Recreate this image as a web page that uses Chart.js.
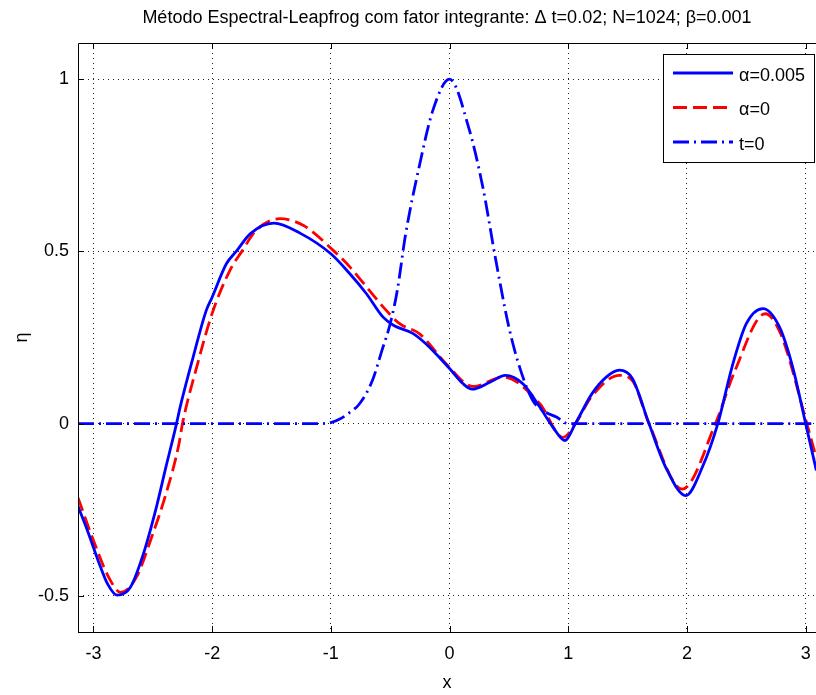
<!DOCTYPE html>
<html lang="pt-br">

<head>
    <meta charset="UTF-8">
    <title>Espectral-Leapfrog</title>
    <script src="https://cdn.jsdelivr.net/npm/chart.js"></script>
    <style>
        body { margin: 0; background: #fff; }
        canvas { display: block; }
    </style>
</head>

<body>
    <canvas id="grafico" width="816" height="695"></canvas>
</body>

<script>
    // valores
    const xTicks = [-3, -2, -1, 0, 1, 2, 3];
    const yTicks = [-0.5, 0, 0.5, 1];

    // alpha = 0.005 (azul, linha cheia)
    const alfaX = [-3.13, -3.05, -2.96, -2.88, -2.80, -2.69, -2.58, -2.47, -2.39, -2.30, -2.27, -2.16, -2.05, -2.0, -1.88, -1.79,
        -1.68, -1.48, -1.26, -1.0, -0.84, -0.70, -0.56, -0.47, -0.31, -0.2, -0.08, 0.0, 0.11, 0.19, 0.34, 0.47, 0.62, 0.76,
        0.87, 0.97, 1.06, 1.20, 1.32, 1.43, 1.54, 1.68, 1.82, 1.99, 2.13, 2.26, 2.38, 2.50, 2.64, 2.78, 2.89, 3.0, 3.09];
    const alfaY = [-0.24, -0.311, -0.398, -0.466, -0.498, -0.476, -0.379, -0.243, -0.127, 0.0, 0.047, 0.193, 0.328, 0.367, 0.464, 0.503,
        0.551, 0.582, 0.553, 0.493, 0.435, 0.377, 0.309, 0.285, 0.262, 0.232, 0.19, 0.16, 0.117, 0.1, 0.12, 0.14, 0.115, 0.048,
        -0.01, -0.049, 0.0, 0.087, 0.135, 0.155, 0.131, 0.0, -0.126, -0.209, -0.126, 0.0, 0.165, 0.29, 0.334, 0.28, 0.165, 0.0, -0.136];

    // alpha = 0 (vermelho, tracejado)
    const zeroX = [-3.13, -3.01, -2.87, -2.77, -2.64, -2.51, -2.39, -2.28, -2.25, -2.13, -2.0, -1.85, -1.75, -1.63, -1.43, -1.23,
        -0.98, -0.84, -0.70, -0.56, -0.42, -0.25, -0.03, 0.2, 0.45, 0.76, 0.955, 1.06, 1.2, 1.43, 1.54, 1.68, 1.96, 2.24, 2.4,
        2.66, 2.79, 3.01, 3.09];
    const zeroY = [-0.215, -0.33, -0.447, -0.49, -0.447, -0.33, -0.205, -0.06, 0.0, 0.164, 0.32, 0.445, 0.5, 0.561, 0.595, 0.575,
        0.503, 0.455, 0.397, 0.339, 0.29, 0.26, 0.174, 0.108, 0.135, 0.058, -0.04, 0.0, 0.08, 0.14, 0.125, 0.0, -0.19, 0.0, 0.15,
        0.319, 0.26, 0.0, -0.1];

    // t = 0 (condicao inicial, traco-ponto)
    const iniX = [-3.13, -1.1, -1.0, -0.92, -0.85, -0.76, -0.65, -0.57, -0.5, -0.44, -0.37, -0.25, -0.14, 0.0, 0.16, 0.28, 0.39,
        0.5, 0.59, 0.7, 0.8, 0.9, 1.0, 3.09];
    const iniY = [0, 0, 0.003, 0.014, 0.03, 0.057, 0.125, 0.212, 0.29, 0.387, 0.55, 0.755, 0.91, 1.0, 0.861, 0.687, 0.474,
        0.28, 0.164, 0.068, 0.035, 0.019, 0, 0];

    const legendaTextos = ['α=0.005', 'α=0', 't=0'];

    const fonte = "'Liberation Sans', Arial, sans-serif";

    function pontos(xs, ys) {
        return xs.map((x, i) => ({ x: x, y: ys[i] }));
    }

    // moldura, marcas internas e legenda estilo matlab
    const caixaMatlab = {
        id: 'caixaMatlab',
        afterDraw(chart) {
            const ctx = chart.ctx;
            const a = chart.chartArea;
            const sx = chart.scales.x;
            const sy = chart.scales.y;
            ctx.save();
            ctx.setLineDash([]);
            ctx.strokeStyle = '#000';
            ctx.lineWidth = 1;
            ctx.beginPath();
            ctx.moveTo(a.left + 0.5, a.bottom + 0.5);
            ctx.lineTo(a.left + 0.5, a.top + 0.5);
            ctx.lineTo(a.right, a.top + 0.5);
            ctx.moveTo(a.left, a.bottom + 0.5);
            ctx.lineTo(a.right, a.bottom + 0.5);
            sx.ticks.forEach(t => {
                const px = Math.round(sx.getPixelForValue(t.value)) + 0.5;
                ctx.moveTo(px, a.bottom);
                ctx.lineTo(px, a.bottom - 6);
                ctx.moveTo(px, a.top);
                ctx.lineTo(px, a.top + 6);
            });
            sy.ticks.forEach(t => {
                const py = Math.round(sy.getPixelForValue(t.value)) + 0.5;
                ctx.moveTo(a.left, py);
                ctx.lineTo(a.left + 6, py);
            });
            ctx.stroke();

            // legenda
            const bx = 663.5, by = 54.5, bw = 151, bh = 108;
            ctx.fillStyle = '#fff';
            ctx.fillRect(bx, by, bw, bh);
            ctx.strokeRect(bx, by, bw, bh);
            chart.data.datasets.forEach((ds, i) => {
                const ly = 73 + i * 34.5;
                ctx.strokeStyle = ds.borderColor;
                ctx.lineWidth = ds.borderWidth;
                ctx.setLineDash(ds.borderDash || []);
                ctx.beginPath();
                ctx.moveTo(673, ly);
                ctx.lineTo(733, ly);
                ctx.stroke();
                ctx.setLineDash([]);
                ctx.fillStyle = '#000';
                ctx.font = '18px ' + fonte;
                ctx.textBaseline = 'middle';
                ctx.textAlign = 'left';
                ctx.fillText(legendaTextos[i], 739, ly + 3);
            });
            ctx.restore();
        }
    };

    Chart.defaults.font.family = fonte;
    Chart.defaults.font.size = 18;
    Chart.defaults.color = '#000';

    const grafico = new Chart(document.getElementById('grafico'), {
        type: 'line',
        data: {
            datasets: [
                {
                    label: legendaTextos[0],
                    data: pontos(alfaX, alfaY),
                    borderColor: '#0000ff',
                    borderWidth: 2.8,
                    order: 2
                },
                {
                    label: legendaTextos[1],
                    data: pontos(zeroX, zeroY),
                    borderColor: '#ff0000',
                    borderWidth: 2.8,
                    borderDash: [14, 6],
                    order: 3
                },
                {
                    label: legendaTextos[2],
                    data: pontos(iniX, iniY),
                    borderColor: '#0000ff',
                    borderWidth: 2.8,
                    borderDash: [16, 5, 2, 5],
                    order: 1
                }
            ]
        },
        options: {
            responsive: false,
            animation: false,
            devicePixelRatio: 1,
            layout: { padding: 0 },
            elements: {
                point: { radius: 0 },
                line: { cubicInterpolationMode: 'monotone', fill: false }
            },
            plugins: {
                legend: { display: false },
                tooltip: { enabled: false },
                title: {
                    display: true,
                    fullSize: false,
                    text: 'Método Espectral-Leapfrog com fator integrante: Δ t=0.02; N=1024; β=0.001',
                    font: { size: 18, weight: 'normal' },
                    color: '#000',
                    padding: { top: 7, bottom: 14.4 }
                }
            },
            scales: {
                x: {
                    type: 'linear',
                    min: -3.13,
                    max: 3.087,
                    afterBuildTicks: s => { s.ticks = xTicks.map(v => ({ value: v })); },
                    afterFit: s => { s.height = 63; s.paddingLeft = 0; s.paddingRight = 0; },
                    ticks: { padding: 11, callback: v => String(v) },
                    grid: { color: '#222', drawTicks: false },
                    border: { display: false, dash: [1, 4] },
                    title: { display: true, text: 'x', padding: { top: 0, bottom: 1 } }
                },
                y: {
                    min: -0.605,
                    max: 1.105,
                    afterBuildTicks: s => { s.ticks = yTicks.map(v => ({ value: v })); },
                    afterFit: s => { s.width = 78; },
                    ticks: { padding: 9, callback: v => String(v) },
                    grid: { color: '#222', drawTicks: false },
                    border: { display: false, dash: [1, 4] },
                    title: { display: true, text: 'η', padding: { top: 11, bottom: 0 } }
                }
            }
        },
        plugins: [caixaMatlab]
    });
</script>

</html>
